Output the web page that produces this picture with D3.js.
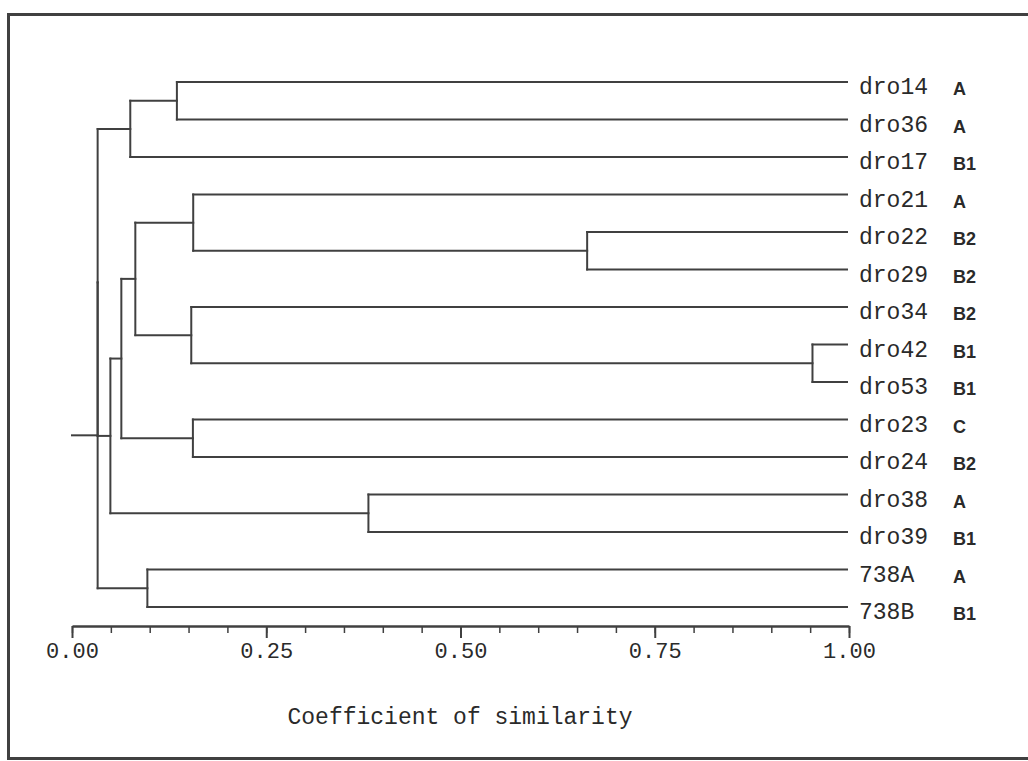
<!DOCTYPE html>
<html>
<head>
<meta charset="utf-8">
<script src="https://cdn.jsdelivr.net/npm/d3@7/dist/d3.min.js"></script>
<style>
  body { margin: 0; background: #fff; }
  #graph1 { width: 1028px; height: 761px; }
  .mono { font-family: "Liberation Mono", "DejaVu Sans Mono", monospace; fill: #2a2a2a; }
  .grp { font-family: "Liberation Sans", Arial, sans-serif; font-weight: bold; fill: #2a2a2a; }
</style>
</head>
<body>
<div id="graph1"></div>
<script>
// leaves in the order they appear top to bottom
var leaves = ["dro14", "dro36", "dro17", "dro21", "dro22", "dro29", "dro34", "dro42",
              "dro53", "dro23", "dro24", "dro38", "dro39", "738A", "738B"];
var groups = ["A", "A", "B1", "A", "B2", "B2", "B2", "B1", "B1", "C", "B2", "A", "B1", "A", "B1"];

// merges, linkage style: [child a, child b, similarity], new node id = leaves.length + row
var mergeA   = [0, 15, 4, 3, 7, 6, 18, 9, 21, 11, 23, 16, 13, 26];
var mergeB   = [1, 2, 5, 17, 8, 19, 20, 10, 22, 12, 24, 25, 14, 27];
var mergeSim = [0.135, 0.075, 0.663, 0.156, 0.953, 0.1535, 0.0815, 0.1556, 0.0635,
                0.3815, 0.0494, 0.033, 0.097, 0.033];

var majorTicks = [0, 0.25, 0.5, 0.75, 1];
var axisTitle = "Coefficient of similarity";

drawGraph1(1028, 761);

function drawGraph1(w, h){
  var svg = d3.select("#graph1").append("svg")
      .attr("width", w)
      .attr("height", h);

  var stroke = "#404040";

  // outer frame (left, top, bottom; right side is cut off)
  svg.append("path")
      .attr("d", "M1028,14.5 L8.5,14.5 L8.5,758.5 L1028,758.5")
      .attr("fill", "none")
      .attr("stroke", stroke)
      .attr("stroke-width", 3);

  var x = d3.scaleLinear().domain([0, 1]).range([72, 849]);
  var y = d3.scaleLinear().domain([0, leaves.length - 1]).range([82, 607]);

  // build nodes
  var nodes = leaves.map(function(d, i){
    return {name: d, sim: 1, y: y(i), leaf: true};
  });
  mergeA.forEach(function(a, i){
    var na = nodes[a], nb = nodes[mergeB[i]];
    nodes.push({sim: mergeSim[i], y: (na.y + nb.y) / 2, kids: [na, nb]});
  });
  var root = nodes[nodes.length - 1];

  var g = svg.append("g");
  var segs = [];
  nodes.forEach(function(n){
    if (!n.kids) return;
    segs.push([x(n.sim), n.kids[0].y, x(n.sim), n.kids[1].y]);
    n.kids.forEach(function(k){
      segs.push([x(n.sim), k.y, x(k.sim) - (k.leaf ? 2 : 0), k.y]);
    });
  });
  // stub from root to 0
  segs.push([x(0), root.y, x(root.sim), root.y]);

  g.selectAll("line")
    .data(segs)
    .enter().append("line")
      .attr("x1", function(d){ return d[0]; })
      .attr("y1", function(d){ return d[1]; })
      .attr("x2", function(d){ return d[2]; })
      .attr("y2", function(d){ return d[3]; })
      .attr("stroke", stroke)
      .attr("stroke-width", 2)
      .attr("stroke-linecap", "square");

  // leaf labels
  var lab = svg.append("g").selectAll("g")
      .data(leaves)
      .enter().append("g");
  lab.append("text")
      .attr("class", "mono")
      .attr("x", 859)
      .attr("y", function(d, i){ return y(i) + 12; })
      .attr("font-size", 23)
      .text(function(d){ return d; });
  lab.append("text")
      .attr("class", "grp")
      .attr("x", 953)
      .attr("y", function(d, i){ return y(i) + 13; })
      .attr("font-size", 18)
      .text(function(d, i){ return groups[i]; });

  // axis
  var axisY = 626;
  var minor = svg.append("g")
      .attr("transform", "translate(0," + axisY + ")")
      .call(d3.axisBottom(x).tickValues(d3.range(0, 21).map(function(i){ return i / 20; }))
            .tickSize(7).tickSizeOuter(0).tickFormat(""));
  minor.select(".domain").attr("stroke", stroke).attr("stroke-width", 2.5);
  minor.selectAll(".tick line").attr("stroke", stroke).attr("stroke-width", 1.5);

  var major = svg.append("g")
      .attr("transform", "translate(0," + axisY + ")")
      .call(d3.axisBottom(x).tickValues(majorTicks).tickSize(12).tickSizeOuter(0)
            .tickFormat(d3.format(".2f")));
  major.select(".domain").remove();
  major.selectAll(".tick line").attr("stroke", stroke).attr("stroke-width", 2);
  major.selectAll(".tick text")
      .attr("class", "mono")
      .attr("y", 32)
      .attr("dy", 0)
      .attr("font-size", 22)
      .attr("font-family", null);

  svg.append("text")
      .attr("class", "mono")
      .attr("x", 460)
      .attr("y", 724)
      .attr("text-anchor", "middle")
      .attr("font-size", 23)
      .text(axisTitle);
}
</script>
</body>
</html>
